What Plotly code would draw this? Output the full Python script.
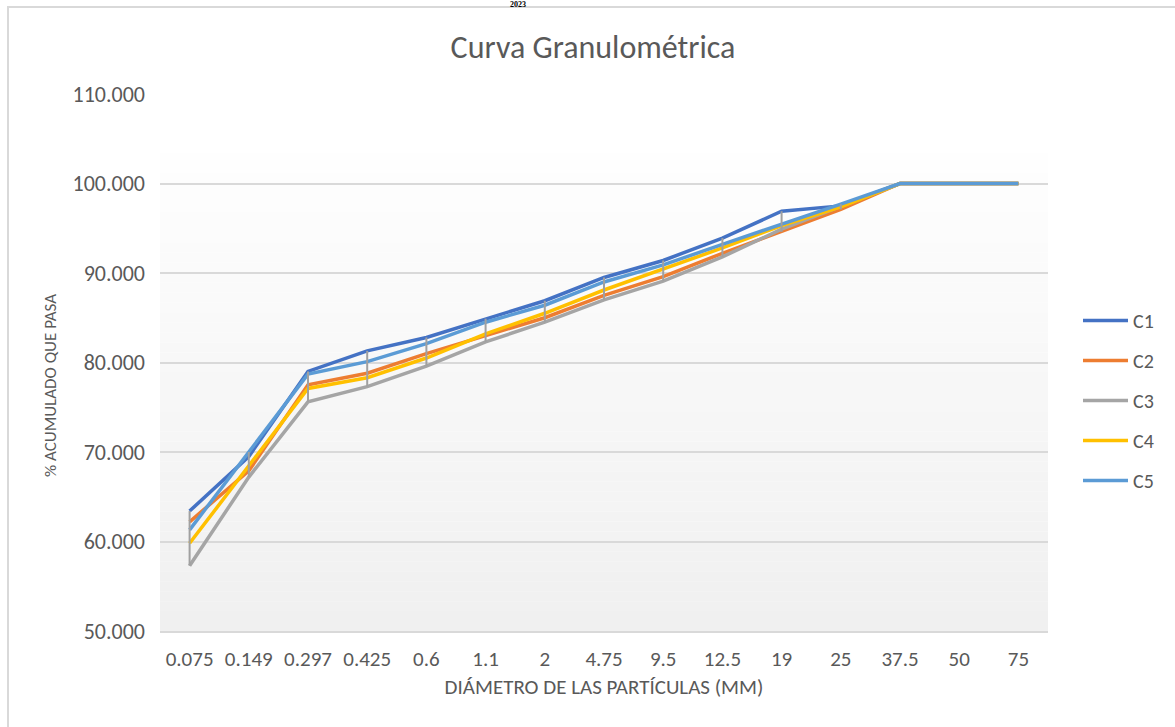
import plotly.graph_objects as go

# Tamices (mm) y % acumulado que pasa para cada muestra
diametros = ["0.075", "0.149", "0.297", "0.425", "0.6", "1.1", "2", "4.75",
             "9.5", "12.5", "19", "25", "37.5", "50", "75"]
c1 = [63.4, 69.5, 79.0, 81.3, 82.8, 84.9, 86.9, 89.5, 91.4, 93.9, 96.9, 97.5, 100.0, 100.0, 100.0]
c2 = [62.2, 67.9, 77.5, 78.8, 81.0, 83.0, 85.0, 87.5, 89.6, 92.2, 94.6, 97.1, 100.0, 100.0, 100.0]
c3 = [57.3, 67.2, 75.6, 77.3, 79.6, 82.3, 84.5, 87.0, 89.1, 91.8, 94.9, 97.4, 100.0, 100.0, 100.0]
c4 = [59.8, 68.4, 77.1, 78.3, 80.5, 83.2, 85.5, 88.1, 90.4, 92.8, 95.3, 97.4, 100.0, 100.0, 100.0]
c5 = [61.3, 70.0, 78.7, 80.1, 82.1, 84.5, 86.4, 89.0, 90.9, 93.2, 95.4, 97.7, 100.0, 100.0, 100.0]
nombres = ["C1", "C2", "C3", "C4", "C5"]
colores = ["#4472C4", "#ED7D31", "#A5A5A5", "#FFC000", "#5B9BD5"]

FONT = "Calibri, Carlito, Lato, sans-serif"
GRIS = "#595959"

# layout in pixels (plot area 160..1048 x 94..631)
W, H = 1175, 727
L, R, T, B = 160, 127, 94, 96
PW, PH = W - L - R, H - T - B


def px(x):
    return (x - L) / PW


def py(y):
    return (H - B - y) / PH


fig = go.Figure()

for nombre, serie, color in zip(nombres, [c1, c2, c3, c4, c5], colores):
    fig.add_trace(go.Scatter(
        x=diametros, y=serie, mode="lines", name=nombre, legendgroup=nombre,
        line=dict(color=color, width=3.5),
    ))

# high-low lines (max to min of every sieve)
hx, hy = [], []
for i, d in enumerate(diametros):
    vals = [s[i] for s in (c1, c2, c3, c4, c5)]
    hx += [d, d, None]
    hy += [max(vals), min(vals), None]
fig.add_trace(go.Scatter(x=hx, y=hy, mode="lines", showlegend=False,
                         line=dict(color="#A0A0A0", width=2), hoverinfo="skip"))

# soft vertical gradient of the plot area
shapes = []
top, bot, n = 153, 631, 48
for k in range(n):
    y0 = top + (bot - top) * k / n
    y1 = top + (bot - top) * (k + 1) / n
    t = k / (n - 1)
    c = round(254 - 14 * t)
    shapes.append(dict(type="rect", xref="paper", yref="paper",
                       x0=0, x1=1, y0=py(y1), y1=py(y0),
                       fillcolor=f"rgb({c},{c},{c})", line=dict(width=0), layer="below"))
# chart frame (top and left edge)
shapes.append(dict(type="line", xref="paper", yref="paper", x0=px(7), x1=px(W), y0=py(7), y1=py(7),
                   line=dict(color="#D9D9D9", width=2)))
shapes.append(dict(type="line", xref="paper", yref="paper", x0=px(8), x1=px(8), y0=py(7), y1=py(H),
                   line=dict(color="#D9D9D9", width=2)))

fig.update_layout(
    width=W, height=H,
    margin=dict(l=L, r=R, t=T, b=B),
    paper_bgcolor="white", plot_bgcolor="rgba(0,0,0,0)",
    font=dict(family=FONT, color=GRIS),
    title=dict(text="Curva Granulométrica", xref="container", x=593 / W, xanchor="center",
               yref="container", y=1 - 47 / H, yanchor="middle", font=dict(size=32, color=GRIS)),
    shapes=shapes,
    showlegend=True,
    legend=dict(x=px(1078), xanchor="left", y=py(301), yanchor="top",
                font=dict(size=20, color=GRIS), tracegroupgap=11, itemwidth=45,
                bgcolor="rgba(0,0,0,0)"),
    annotations=[
        dict(text="<b>2023</b>", xref="paper", yref="paper", x=px(518), y=py(4),
             showarrow=False, xanchor="center", yanchor="middle",
             font=dict(family="Liberation Serif", size=8, color="black")),
        # y-axis title sits a bit below the middle of the plot, as in the original
        dict(text="% ACUMULADO QUE PASA", xref="paper", yref="paper", x=px(50), y=py(386),
             showarrow=False, xanchor="center", yanchor="middle", textangle=-90,
             font=dict(size=17, color=GRIS)),
    ],
)

fig.update_xaxes(
    type="category", range=[-0.5, len(diametros) - 0.5],
    showgrid=False, showline=True, linecolor="#D9D9D9", linewidth=2,
    ticks="", tickfont=dict(size=21, color=GRIS), ticklabelstandoff=8,
    title=dict(text="DIÁMETRO DE LAS PARTÍCULAS (MM)", font=dict(size=21, color=GRIS), standoff=8),
)
fig.update_yaxes(
    range=[50, 110], dtick=10, tickformat=".3f",
    showgrid=True, gridcolor="#D9D9D9", gridwidth=1.5, zeroline=False,
    showline=False, ticks="", tickfont=dict(size=22, color=GRIS), ticklabelstandoff=14,
)

# the page body has an 8px margin by default; drop it so the chart sits at the window corner
fig.write_html("out.html", config={"displayModeBar": False},
               post_script="document.body.style.margin='0';")
